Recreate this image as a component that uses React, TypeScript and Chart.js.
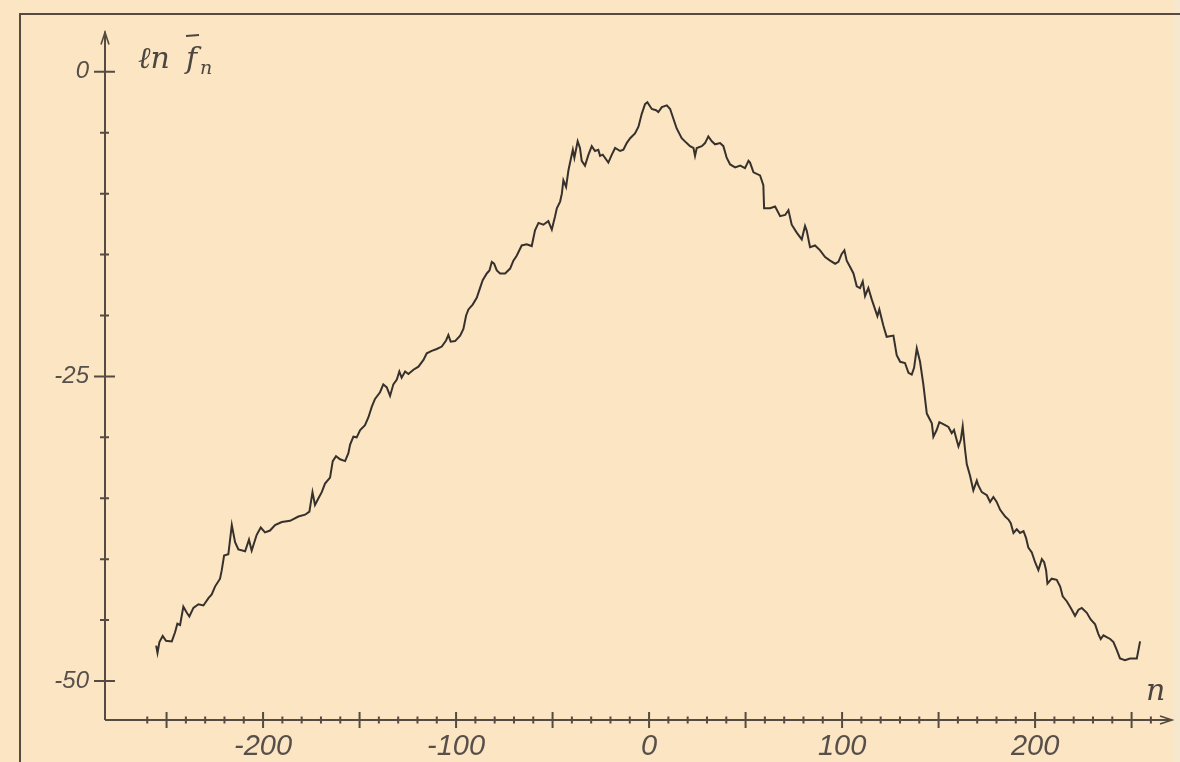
import React, { useEffect, useRef } from "react";
import { Chart, registerables } from "chart.js";

Chart.register(...registerables);

const N_VALUES = [
  -255.4, -254.7, -253.7, -252.0, -250.3, -247.3, -245.6, -244.4, -243.0, -241.3,
  -239.5, -238.2, -236.1, -233.5, -230.9, -228.3, -226.6, -224.9, -222.3, -221.4,
  -220.2, -218.0, -216.2, -214.5, -212.8, -209.3, -207.3, -205.9, -203.3, -201.2,
  -199.0, -196.4, -193.8, -190.3, -186.0, -181.7, -178.2, -176.0, -174.4, -173.1,
  -171.3, -169.6, -167.9, -165.3, -163.9, -162.2, -160.1, -157.5, -155.8,
  -154.9, -153.2, -151.5, -149.7, -147.2, -145.4, -143.7, -142.0, -139.4, -137.7,
  -135.9, -134.2, -132.5, -130.7, -129.4, -128.2, -126.4, -124.7, -122.1, -119.5,
  -116.9, -115.2, -112.6, -110.0, -107.4, -105.2, -104.0, -102.8, -100.5, -97.9,
  -96.2, -94.8, -93.6, -91.4, -89.3, -87.6, -86.2, -84.1, -82.7, -81.5,
  -80.3, -78.9, -77.2, -74.6, -72.0, -70.3, -68.6, -66.0, -63.4, -60.8,
  -59.1, -57.3, -54.8, -52.2, -50.4, -48.7, -47.8, -46.1, -45.2, -44.4,
  -43.0, -41.8, -40.6, -39.5, -38.7, -37.0, -35.8, -34.9, -33.2, -31.4,
  -29.7, -28.0, -26.3, -25.4, -24.0, -21.1, -19.3, -17.6, -15.0, -13.3,
  -11.6, -9.8, -7.3, -5.5, -3.8, -2.1, -0.9, 1.4, 3.6, 4.8,
  6.6, 9.2, 10.9, 12.6, 14.3, 16.9, 19.5, 21.2, 23.0, 23.8,
  24.7, 27.3, 29.0, 30.7, 32.5, 34.2, 36.8, 38.5, 40.2, 42.0,
  44.6, 47.2, 49.7, 51.5, 52.3, 54.1, 57.5, 59.2, 59.6, 62.7,
  65.3, 67.9, 70.5, 72.2, 73.9, 76.5, 79.1, 80.8, 81.7, 83.4,
  86.0, 88.6, 91.2, 93.8, 96.4, 98.1, 99.8, 101.2, 102.4, 104.1,
  105.9, 107.6, 109.3, 110.7, 111.9, 113.6, 115.4, 117.1, 118.3, 119.3,
  121.4, 123.1, 126.6, 128.3, 130.1, 132.6, 134.4, 136.1, 137.3, 138.7,
  140.4, 142.1, 143.9, 146.5, 147.3, 149.0, 150.4, 153.4, 155.1, 156.8,
  158.0, 159.1, 160.3, 161.5, 162.5, 163.7, 164.6, 166.3, 168.0, 169.8,
  170.6, 172.4, 175.0, 176.7, 178.4, 180.1, 181.9, 184.5, 186.2, 187.4,
  188.8, 190.5, 192.2, 194.0, 195.3, 196.5, 198.3, 200.0, 201.7, 203.5,
  204.7, 205.7, 206.4, 208.6, 211.2, 213.0, 214.3, 216.4, 218.5, 220.7,
  222.5, 224.2, 226.8, 228.8, 231.1, 232.8, 234.0, 235.4, 237.1, 238.9,
  240.6, 242.3, 244.0, 246.6, 249.2, 252.7, 254.4,
];

// ln f̄_n values, one per entry of N_VALUES
const LN_F = [
  -47.1, -47.7, -46.8, -46.3, -46.7, -46.75, -46.0, -45.3, -45.4, -43.9,
  -44.4, -44.7, -44.0, -43.7, -43.8, -43.2, -42.9, -42.25, -41.6, -40.9,
  -39.7, -39.6, -37.2, -38.6, -39.2, -39.35, -38.4, -39.3, -38.0, -37.4,
  -37.8, -37.65, -37.2, -36.95, -36.85, -36.5, -36.35, -36.1, -34.5, -35.55,
  -35.0, -34.5, -33.8, -33.3, -31.95, -31.55, -31.8, -31.95, -31.3,
  -30.6, -29.95, -30.0, -29.4, -29.0, -28.35, -27.5, -26.85, -26.3, -25.65,
  -25.9, -26.6, -25.65, -25.25, -24.6, -25.1, -24.6, -24.8, -24.45, -24.2,
  -23.65, -23.1, -22.9, -22.75, -22.55, -22.05, -21.6, -22.15, -22.1, -21.65,
  -21.1, -20.0, -19.5, -19.1, -18.55, -17.75, -17.1, -16.55, -16.3, -15.6,
  -15.75, -16.3, -16.55, -16.55, -16.15, -15.5, -15.1, -14.25, -14.15, -14.3,
  -13.0, -12.4, -12.55, -12.25, -12.95, -11.85, -11.2, -10.65, -10.0, -8.9,
  -9.45, -8.1, -7.2, -6.4, -7.05, -5.7, -6.25, -7.3, -7.7, -6.8,
  -6.1, -6.5, -6.4, -6.9, -6.8, -7.45, -6.8, -6.25, -6.5, -6.4,
  -5.85, -5.45, -5.05, -4.5, -3.45, -2.65, -2.5, -3.05, -3.15, -3.3,
  -2.9, -2.75, -3.05, -3.85, -4.65, -5.45, -5.85, -6.1, -6.25, -6.9,
  -6.25, -6.1, -5.85, -5.3, -5.7, -5.95, -5.85, -6.1, -7.05, -7.6,
  -7.85, -7.7, -7.9, -7.3, -7.45, -8.25, -8.5, -9.3, -11.2, -11.2,
  -11.05, -11.85, -11.75, -11.35, -12.55, -13.2, -13.75, -12.65, -13.05, -14.4,
  -14.25, -14.65, -15.2, -15.5, -15.75, -15.6, -14.95, -14.65, -15.5, -16.0,
  -16.55, -17.6, -17.75, -17.2, -18.4, -17.75, -18.7, -19.5, -20.05, -19.5,
  -20.85, -21.75, -21.65, -23.25, -23.8, -23.9, -24.7, -24.85, -24.3, -22.7,
  -23.8, -25.65, -28.05, -28.85, -29.95, -29.4, -28.75, -29.0, -29.15, -29.65,
  -29.4, -30.05, -30.75, -30.2, -29.1, -31.0, -32.2, -33.15, -34.35, -33.55,
  -33.95, -34.5, -34.75, -35.3, -34.9, -35.3, -35.95, -36.5, -36.75, -37.05,
  -37.85, -37.55, -37.85, -37.7, -38.25, -39.05, -39.45, -40.25, -40.9, -40.0,
  -40.25, -40.9, -42.0, -41.6, -41.7, -42.25, -43.05, -43.45, -44.0, -44.65,
  -44.15, -44.0, -44.4, -44.95, -45.35, -46.15, -46.55, -46.25, -46.4, -46.55,
  -46.8, -47.45, -48.15, -48.3, -48.15, -48.15, -46.75,
];

// axis settings
const X_MIN = -281.9;
const X_MAX = 269.9;
const Y_MIN = -53.2;
const Y_MAX = 3.4;
const X_TICK_LABELS = [-200, -100, 0, 100, 200];
const X_MINOR_FROM = -260;
const X_MINOR_TO = 260;
const X_MINOR_STEP = 10;
const X_MAJOR_STEP = 50;
const Y_TICK_LABELS = [0, -25, -50];
const Y_MINOR_STEP = 5;

const PAPER = "#fbe5c3";
const INK = "#36312c";
const AXIS = "#564b42";
const LABEL = "#57504a";

function range(from: number, to: number, step: number) {
  const out: number[] = [];
  for (let v = from; v <= to + 1e-9; v += step) out.push(Math.round(v * 1000) / 1000);
  return out;
}

const decorPlugin = {
  id: "paperDecor",
  beforeDraw(chart: any) {
    const { ctx, width, height } = chart;
    ctx.save();
    ctx.fillStyle = PAPER;
    ctx.fillRect(0, 0, width, height);
    // lighter strip at the paper edge
    ctx.fillStyle = "#f6e7cf";
    ctx.fillRect(1173, 0, width - 1173, height);
    // outer frame
    ctx.strokeStyle = "#564a41";
    ctx.lineWidth = 2;
    ctx.beginPath();
    ctx.moveTo(20, 762);
    ctx.lineTo(20, 14);
    ctx.lineTo(1180, 14);
    ctx.stroke();
    ctx.restore();
  },
  afterDraw(chart: any) {
    const { ctx, chartArea, scales } = chart;
    const xs = scales.x;
    const ys = scales.y;
    const x0 = chartArea.left;
    const y0 = chartArea.bottom;
    ctx.save();
    ctx.strokeStyle = AXIS;
    ctx.lineWidth = 2;
    ctx.lineCap = "butt";
    // axes
    ctx.beginPath();
    ctx.moveTo(x0, y0);
    ctx.lineTo(x0, chartArea.top + 1);
    ctx.moveTo(x0, y0);
    ctx.lineTo(chartArea.right + 2, y0);
    ctx.stroke();
    // arrow heads
    ctx.lineWidth = 1.6;
    ctx.beginPath();
    ctx.moveTo(x0 - 4, chartArea.top + 14);
    ctx.lineTo(x0, chartArea.top + 2);
    ctx.lineTo(x0 + 4, chartArea.top + 14);
    ctx.moveTo(chartArea.right - 10, y0 - 4);
    ctx.lineTo(chartArea.right + 2, y0);
    ctx.lineTo(chartArea.right - 10, y0 + 4);
    ctx.stroke();
    // x tick marks crossing the axis
    ctx.lineWidth = 2;
    ctx.beginPath();
    for (const t of xs.ticks) {
      const px = xs.getPixelForValue(t.value);
      const major = Math.abs(t.value % X_MAJOR_STEP) < 1e-6;
      const len = major ? 8 : 3.5;
      ctx.moveTo(px, y0 - len);
      ctx.lineTo(px, y0 + len);
    }
    // y tick marks
    for (const t of ys.ticks) {
      const py = ys.getPixelForValue(t.value);
      const major = Y_TICK_LABELS.includes(t.value);
      const lenL = major ? 11 : 5;
      const lenR = major ? 10 : 4;
      ctx.moveTo(x0 - lenL, py);
      ctx.lineTo(x0 + lenR, py);
    }
    ctx.stroke();

    // y-axis title: ln f̄_n
    ctx.fillStyle = "#4c4640";
    ctx.textBaseline = "alphabetic";
    ctx.font = "italic 30px 'DejaVu Serif'";
    ctx.fillText("\u2113n", 138, 68);
    ctx.fillText("f", 186, 68);
    ctx.font = "italic 19px 'DejaVu Serif'";
    ctx.fillText("n", 200, 74);
    ctx.strokeStyle = "#4c4640";
    ctx.lineWidth = 2;
    ctx.beginPath();
    ctx.moveTo(186, 36);
    ctx.lineTo(199, 35);
    ctx.stroke();
    // x-axis title
    ctx.font = "italic 30px 'DejaVu Serif'";
    ctx.fillText("n", 1146, 700);
    ctx.restore();
  },
};

export default function App() {
  const canvasRef = useRef<HTMLCanvasElement | null>(null);

  useEffect(() => {
    if (!canvasRef.current) return;
    const points = N_VALUES.map((n, i) => ({ x: n, y: LN_F[i] }));
    const chart = new Chart(canvasRef.current, {
      type: "line",
      data: {
        datasets: [
          {
            data: points,
            borderColor: INK,
            borderWidth: 2,
            pointRadius: 0,
            tension: 0,
            fill: false,
          },
        ],
      },
      options: {
        responsive: false,
        animation: false,
        layout: { padding: { top: 15, right: 10, left: 0, bottom: 0 } },
        plugins: {
          legend: { display: false },
          tooltip: { enabled: false },
        },
        scales: {
          x: {
            type: "linear",
            min: X_MIN,
            max: X_MAX,
            grid: { display: false, drawTicks: false },
            border: { display: false },
            afterBuildTicks: (scale: any) => {
              scale.ticks = range(X_MINOR_FROM, X_MINOR_TO, X_MINOR_STEP).map((v) => ({ value: v }));
            },
            afterFit: (scale: any) => {
              scale.height = 42;
            },
            ticks: {
              autoSkip: false,
              maxRotation: 0,
              padding: 10,
              color: LABEL,
              font: { family: "'Liberation Sans'", size: 29, style: "italic" },
              callback: (value: any) => (X_TICK_LABELS.includes(Number(value)) ? String(value) : ""),
            },
          },
          y: {
            type: "linear",
            min: Y_MIN,
            max: Y_MAX,
            grid: { display: false, drawTicks: false },
            border: { display: false },
            afterBuildTicks: (scale: any) => {
              scale.ticks = range(-50, 0, Y_MINOR_STEP).map((v) => ({ value: v }));
            },
            afterFit: (scale: any) => {
              scale.width = 105;
            },
            ticks: {
              autoSkip: false,
              padding: 16,
              color: LABEL,
              font: { family: "'Liberation Sans'", size: 24, style: "italic" },
              callback: (value: any) => (Y_TICK_LABELS.includes(Number(value)) ? String(value) : ""),
            },
          },
        },
      },
      plugins: [decorPlugin],
    });
    return () => chart.destroy();
  }, []);

  return (
    <div style={{ position: "absolute", left: 0, top: 0, width: 1180, height: 762, background: PAPER }}>
      <canvas ref={canvasRef} width={1180} height={762} style={{ display: "block" }} />
    </div>
  );
}
